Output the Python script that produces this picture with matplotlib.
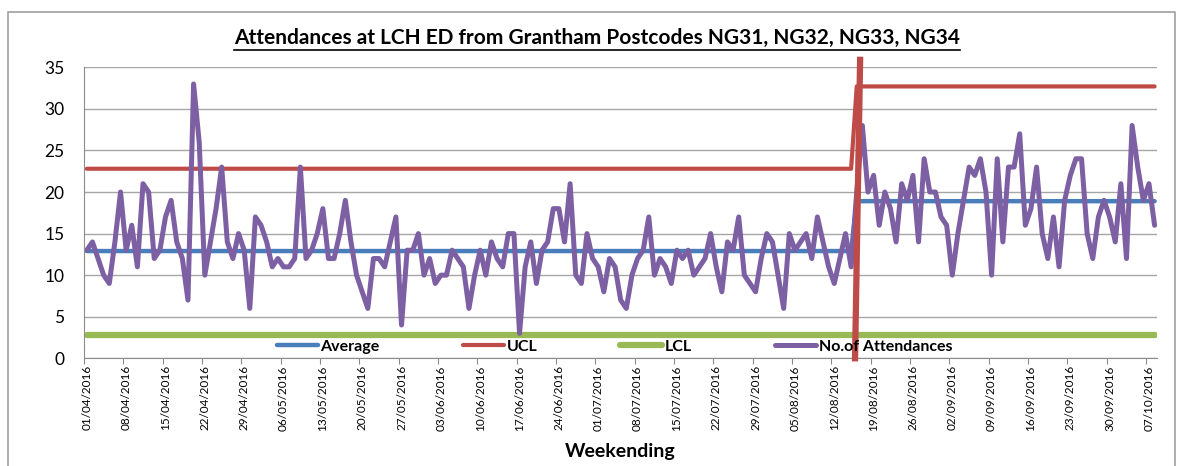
import datetime
import matplotlib
matplotlib.use("Agg")
import matplotlib.pyplot as plt
from matplotlib.lines import Line2D

plt.rcParams['font.family'] = ['Lato', 'DejaVu Sans']

# daily attendances from 01/04/2016
start_date = datetime.date(2016, 4, 1)
attendances = [
    13, 14, 12, 10, 9, 14, 20, 13, 16, 11,
    21, 20, 12, 13, 17, 19, 14, 12, 7, 33,
    26, 10, 14, 18, 23, 14, 12, 15, 13, 6,
    17, 16, 14, 11, 12, 11, 11, 12, 23, 12,
    13, 15, 18, 12, 12, 15, 19, 14, 10, 8,
    6, 12, 12, 11, 14, 17, 4, 13, 13, 15,
    10, 12, 9, 10, 10, 13, 12, 11, 6, 10,
    13, 10, 14, 12, 11, 15, 15, 3, 11, 14,
    9, 13, 14, 18, 18, 14, 21, 10, 9, 15,
    12, 11, 8, 12, 11, 7, 6, 10, 12, 13,
    17, 10, 12, 11, 9, 13, 12, 13, 10, 11,
    12, 15, 11, 8, 14, 13, 17, 10, 9, 8,
    12, 15, 14, 10, 6, 15, 13, 14, 15, 12,
    17, 14, 11, 9, 12, 15, 11,
    20,
    28, 20, 22, 16, 20, 18, 14, 21, 19, 22,
    14, 24, 20, 20, 17, 16, 10, 15, 19, 23,
    22, 24, 20, 10, 24, 14, 23, 23, 27, 16,
    18, 23, 15, 12, 17, 11, 19, 22, 24, 24,
    15, 12, 17, 19, 17, 14, 21, 12, 28, 23,
    19, 21, 16,
]
phase_lengths = [137, 54]
average_levels = [12.9, 18.9]
ucl_levels = [22.8, 32.7]
lcl_level = 2.8
# the red marker line where the process changes
split_x = [136.7, 137.6]
split_y = [0, 35.9]

c_avg = '#4A7EBB'
c_ucl = '#BE4B48'
c_lcl = '#98B954'
c_att = '#7D5FA3'

n = len(attendances)
days = list(range(n))
average = []
ucl = []
for length, a, u in zip(phase_lengths, average_levels, ucl_levels):
    average += [a] * length
    ucl += [u] * length
lcl = [lcl_level] * n

dates = [start_date + datetime.timedelta(days=d) for d in days]
label_pos = days[::7]
label_txt = [dates[d].strftime('%d/%m/%Y') for d in label_pos]

fig = plt.figure(figsize=(11.84, 4.66), dpi=100)
W, H = 1184, 466
ax = fig.add_axes([84 / W, 1 - 358.3 / H, (1157.4 - 84) / W, (358.3 - 67.3) / H])

ax.plot(days, average, color=c_avg, lw=3.2, solid_capstyle='round', label='Average')
ax.plot(days, ucl, color=c_ucl, lw=3.0, solid_capstyle='round', label='UCL')
ax.plot(days, lcl, color=c_lcl, lw=4.5, solid_capstyle='round', label='LCL')
ax.plot(days, attendances, color=c_att, lw=3.6, solid_joinstyle='round',
        solid_capstyle='round', label='No.of Attendances')
ax.plot(split_x, split_y, color=c_ucl, lw=4.5, clip_on=False, zorder=5)

ax.set_xlim(-0.5, n - 0.5)
ax.set_ylim(0, 35)
ax.set_yticks(range(0, 36, 5))
ax.yaxis.grid(True, color='#A6A6A6', lw=1.0)
ax.set_axisbelow(True)
for s in ['top', 'right']:
    ax.spines[s].set_visible(False)
ax.spines['left'].set_color('#8C8C8C')
ax.spines['bottom'].set_color('#8C8C8C')
ax.tick_params(axis='y', length=0, pad=14, labelsize=12.5, colors='black')

# tick marks between categories, labels on the category
ax.set_xticks([d - 0.5 for d in label_pos])
ax.set_xticklabels([])
ax.tick_params(axis='x', which='major', length=4, color='#8C8C8C')
ax.set_xticks(label_pos, minor=True)
ax.set_xticklabels(label_txt, minor=True, rotation=90, fontsize=8.5)
ax.tick_params(axis='x', which='minor', length=0, pad=5)

ax.set_xlabel('Weekending', fontsize=14, fontweight='bold', va='center')
ax.xaxis.set_label_coords(0.5, -(452 - 358.3) / 291)

ax.legend(loc='center', bbox_to_anchor=(0.494, 0.039), ncol=4, frameon=False,
          handlelength=2.6, handletextpad=0.15, columnspacing=5.2,
          prop={'weight': 'bold', 'size': 11.5})

title = fig.text(597 / W, 1 - 38 / H, 'Attendances at LCH ED from Grantham Postcodes NG31, NG32, NG33, NG34',
                 ha='center', va='center', fontsize=15, fontweight='bold')

# underline the title
fig.canvas.draw()
bb = title.get_window_extent()
uy = (bb.y0 - 2) / H
fig.add_artist(Line2D([bb.x0 / W, bb.x1 / W], [uy, uy], color='black', lw=1.2))

# chart area border
bx0, bx1, by1 = 8 / W, 1175 / W, 1 - 12 / H
fig.add_artist(Line2D([bx0, bx0, bx1, bx1], [0, by1, by1, 0], color='#A0A0A0', lw=1.2))

fig.savefig('out.png', dpi=100)
